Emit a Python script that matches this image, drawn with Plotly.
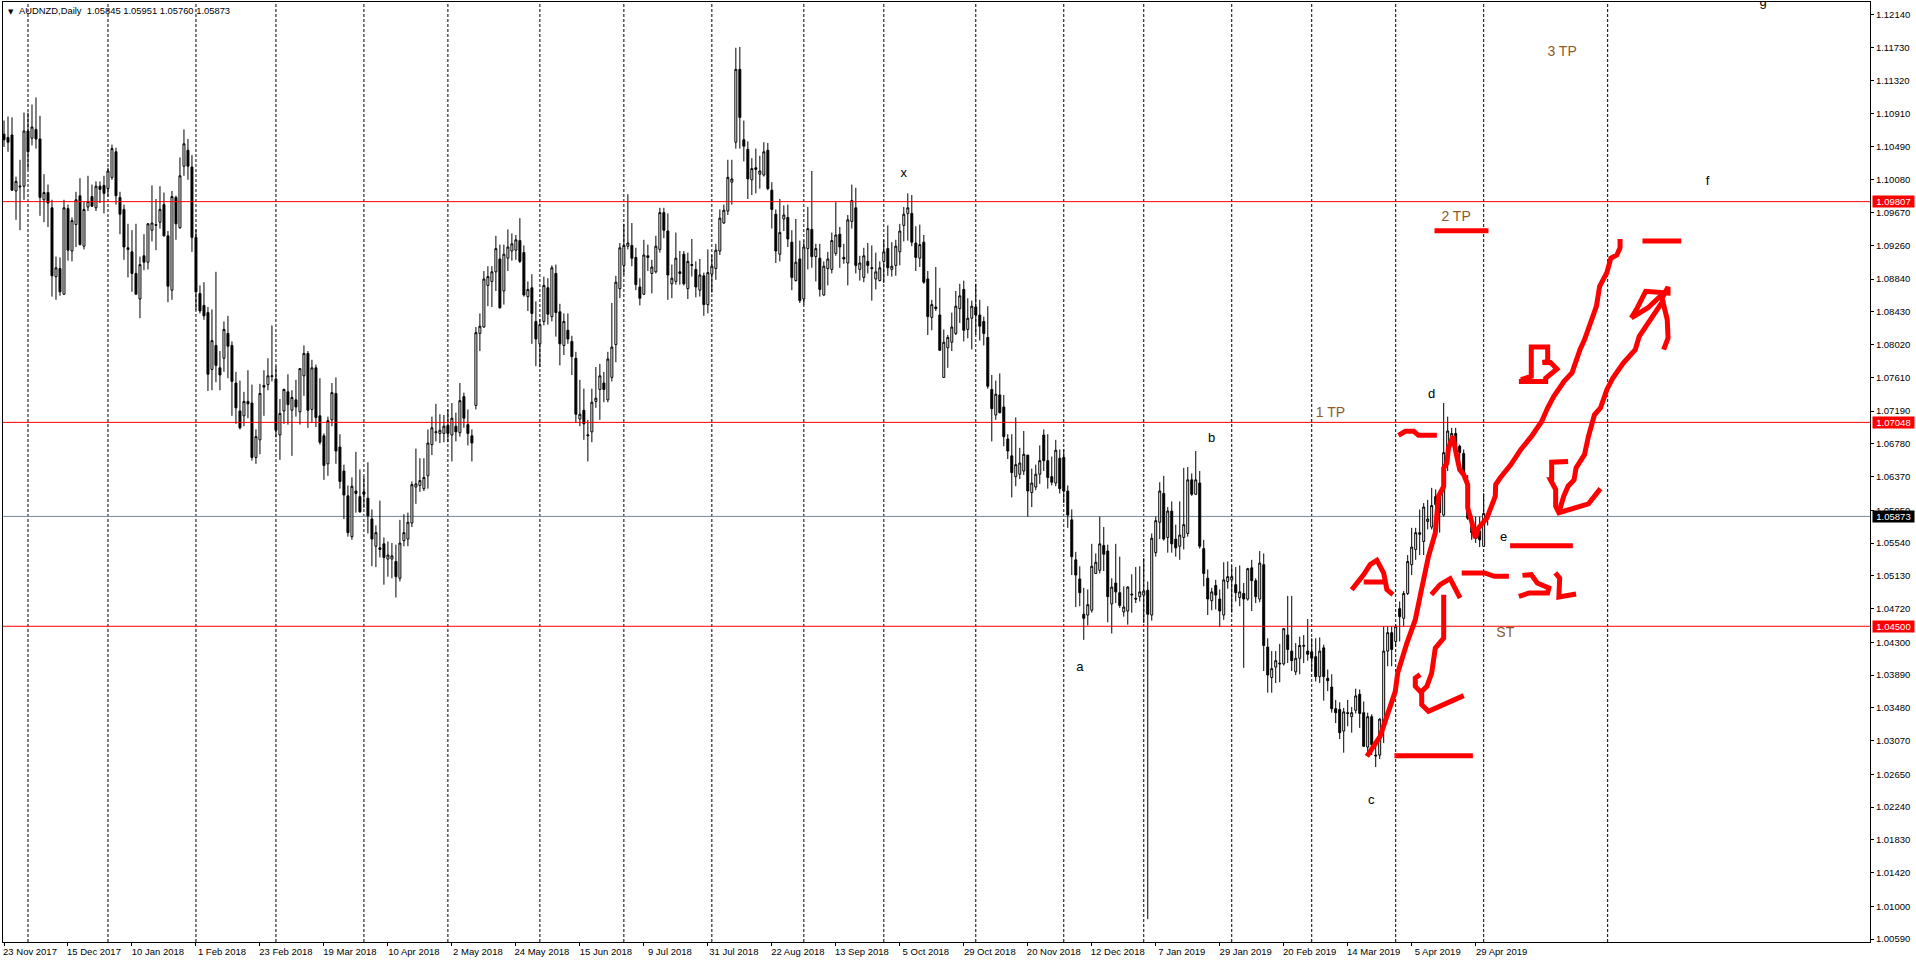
import plotly.graph_objects as go

opens = [
1.1065,1.1061,1.1064,1.0994,1.0999,1.1000,1.1069,1.1060,1.1071,1.1059,
1.0983,1.0992,1.0973,1.0887,1.0897,1.0865,1.0972,1.0919,1.0952,1.0988,
1.0925,1.0974,1.0987,1.0973,1.1000,1.1001,1.0997,1.1011,1.1043,1.0986,
1.0971,1.0923,1.0918,1.0891,1.0859,1.0913,1.0905,1.0945,1.0951,1.0955,
1.0977,1.0938,1.0870,1.0986,1.0948,1.1025,1.1045,1.1024,1.0936,1.0866,
1.0851,1.0842,1.0771,1.0801,1.0773,1.0785,1.0816,1.0801,1.0754,1.0719,
1.0713,1.0731,1.0729,1.0661,1.0683,1.0751,1.0752,1.0762,1.0759,1.0689,
1.0719,1.0743,1.0720,1.0733,1.0718,1.0763,1.0791,1.0721,1.0773,1.0713,
1.0688,1.0653,1.0708,1.0741,1.0674,1.0644,1.0613,1.0562,1.0619,1.0612,
1.0618,1.0610,1.0584,1.0550,1.0548,1.0553,1.0534,1.0534,1.0531,1.0510,
1.0557,1.0559,1.0579,1.0624,1.0626,1.0622,1.0638,1.0677,1.0692,1.0691,
1.0691,1.0701,1.0689,1.0700,1.0692,1.0737,1.0702,1.0688,1.0726,1.0816,
1.0824,1.0876,1.0881,1.0893,1.0909,1.0869,1.0910,1.0919,1.0920,1.0932,
1.0917,1.0862,1.0873,1.0831,1.0803,1.0831,1.0873,1.0837,1.0891,1.0843,
1.0801,1.0820,1.0806,1.0785,1.0709,1.0720,1.0688,1.0693,1.0731,1.0746,
1.0754,1.0733,1.0761,1.0802,1.0872,1.0901,1.0925,1.0926,1.0911,1.0874,
1.0865,1.0913,1.0891,1.0893,1.0921,1.0967,1.0944,1.0878,1.0881,1.0893,
1.0915,1.0872,1.0902,1.0896,1.0870,1.0888,1.0852,1.0890,1.0897,1.0919,
1.0954,1.0969,1.1005,1.1055,1.1146,1.1058,1.1046,1.1008,1.1023,1.1015,
1.1014,1.1045,1.0995,1.0965,1.0915,1.0959,1.0961,1.0930,1.0882,1.0909,
1.0859,1.0922,1.0946,1.0912,1.0910,1.0864,1.0897,1.0896,1.0916,1.0940,
1.0911,1.0904,1.0956,1.0973,1.0896,1.0886,1.0906,1.0897,1.0884,1.0882,
1.0906,1.0922,1.0896,1.0901,1.0918,1.0951,1.0966,1.0966,1.0929,1.0910,
1.0930,1.0884,1.0836,1.0849,1.0839,1.0761,1.0798,1.0805,1.0816,1.0847,
1.0871,1.0821,1.0835,1.0849,1.0839,1.0831,1.0811,1.0746,1.0714,1.0739,
1.0724,1.0684,1.0663,1.0637,1.0640,1.0644,1.0664,1.0617,1.0624,1.0640,
1.0689,1.0657,1.0637,1.0629,1.0660,1.0661,1.0619,1.0583,1.0533,1.0509,
1.0465,1.0464,1.0470,1.0516,1.0520,1.0551,1.0544,1.0478,1.0504,1.0492,
1.0468,1.0469,1.0489,1.0485,1.0487,1.0489,1.0495,1.0464,1.0542,1.0580,
1.0616,1.0561,1.0594,1.0559,1.0550,1.0561,1.0566,1.0633,1.0615,1.0629,
1.0547,1.0510,1.0482,1.0501,1.0484,1.0464,1.0506,1.0508,1.0502,1.0486,
1.0491,1.0484,1.0523,1.0507,1.0484,1.0527,1.0424,1.0386,1.0399,1.0404,
1.0403,1.0439,1.0419,1.0393,1.0410,1.0425,1.0419,1.0418,1.0412,1.0387,
1.0423,1.0385,1.0374,1.0347,1.0346,1.0319,1.0342,1.0337,1.0345,1.0365,
1.0342,1.0299,1.0337,1.0289,1.0289,1.0325,1.0419,1.0442,1.0431,1.0472,
1.0460,1.0491,1.0527,1.0546,1.0567,1.0556,1.0581,1.0574,1.0612,1.0612,
1.0589,1.0667,1.0677,1.0691,1.0675,1.0666,1.0621,1.0575,1.0571,1.0569,
1.0550,1.05845]

highs = [
1.1082,1.1087,1.1086,1.1012,1.1033,1.1092,1.1092,1.1102,1.1111,1.1088,
1.1015,1.1002,1.0983,1.0912,1.0911,1.0983,1.0977,1.0961,1.0993,1.1010,
1.0981,1.1013,1.1002,1.1006,1.1006,1.1013,1.1023,1.1052,1.1048,1.0993,
1.0977,1.0953,1.0945,1.0953,1.0912,1.0940,1.0954,1.1001,1.0984,1.1000,
1.0992,1.0944,1.0994,1.0988,1.1036,1.1071,1.1059,1.1039,1.0946,1.0876,
1.0880,1.0849,1.0846,1.0893,1.0794,1.0831,1.0838,1.0806,1.0768,1.0757,
1.0743,1.0770,1.0752,1.0696,1.0753,1.0770,1.0785,1.0826,1.0775,1.0734,
1.0747,1.0765,1.0745,1.0758,1.0772,1.0801,1.0794,1.0783,1.0777,1.0760,
1.0691,1.0712,1.0754,1.0761,1.0690,1.0652,1.0626,1.0636,1.0668,1.0646,
1.0637,1.0655,1.0596,1.0576,1.0607,1.0561,1.0556,1.0554,1.0552,1.0583,
1.0590,1.0592,1.0631,1.0672,1.0660,1.0660,1.0696,1.0712,1.0728,1.0715,
1.0714,1.0721,1.0729,1.0717,1.0754,1.0742,1.0721,1.0696,1.0824,1.0841,
1.0894,1.0900,1.0900,1.0938,1.0927,1.0927,1.0946,1.0941,1.0939,1.0960,
1.0926,1.0881,1.0890,1.0856,1.0834,1.0887,1.0885,1.0901,1.0902,1.0853,
1.0841,1.0841,1.0813,1.0793,1.0758,1.0747,1.0708,1.0747,1.0774,1.0778,
1.0768,1.0793,1.0854,1.0888,1.0929,1.0953,1.0990,1.0954,1.0923,1.0885,
1.0933,1.0927,1.0908,1.0938,1.0973,1.0973,1.0966,1.0902,1.0942,1.0919,
1.0919,1.0917,1.0934,1.0906,1.0909,1.0892,1.0921,1.0914,1.0928,1.0971,
1.0977,1.1033,1.1033,1.1173,1.1174,1.1082,1.1056,1.1035,1.1047,1.1038,
1.1055,1.1054,1.1005,1.0971,1.0984,1.0976,1.0977,1.0945,1.0959,1.0932,
1.0932,1.0974,1.1019,1.0928,1.0928,1.0906,1.0918,1.0942,1.0980,1.0949,
1.0928,1.0964,1.1002,1.0998,1.0913,1.0923,1.0929,1.0926,1.0917,1.0906,
1.0933,1.0951,1.0930,1.0933,1.0953,1.0974,1.0991,1.0989,1.0950,1.0952,
1.0939,1.0894,1.0858,1.0899,1.0873,1.0821,1.0814,1.0842,1.0869,1.0878,
1.0882,1.0860,1.0857,1.0878,1.0858,1.0837,1.0850,1.0764,1.0757,1.0766,
1.0739,1.0690,1.0690,1.0711,1.0673,1.0694,1.0664,1.0647,1.0652,1.0676,
1.0696,1.0690,1.0662,1.0683,1.0671,1.0671,1.0626,1.0596,1.0543,1.0525,
1.0498,1.0496,1.0553,1.0541,1.0587,1.0574,1.0552,1.0510,1.0553,1.0537,
1.0500,1.0500,1.0515,1.0524,1.0525,1.0535,1.0506,1.0566,1.0587,1.0630,
1.0638,1.0599,1.0606,1.0577,1.0606,1.0648,1.0649,1.0641,1.0669,1.0644,
1.0558,1.0521,1.0498,1.0508,1.0496,1.0530,1.0531,1.0525,1.0524,1.0526,
1.0504,1.0523,1.0533,1.0510,1.0544,1.0541,1.0435,1.0419,1.0419,1.0428,
1.0447,1.0488,1.0488,1.0429,1.0437,1.0439,1.0459,1.0435,1.0435,1.0436,
1.0427,1.0396,1.0390,1.0358,1.0355,1.0348,1.0358,1.0349,1.0372,1.0371,
1.0356,1.0342,1.0340,1.0300,1.0335,1.0450,1.0450,1.0450,1.0452,1.0481,
1.0494,1.0539,1.0573,1.0573,1.0596,1.0604,1.0608,1.0623,1.0621,1.0617,
1.0729,1.0712,1.0698,1.0698,1.0677,1.0671,1.0639,1.0587,1.0587,1.0587,
1.0616,1.05951]

lows = [
1.1049,1.1043,1.0994,1.0958,1.0945,1.0983,1.1021,1.1051,1.1047,1.0963,
1.0955,1.0949,1.0862,1.0858,1.0863,1.0864,1.0907,1.0906,1.0924,1.0926,
1.0921,1.0969,1.0974,1.0969,1.0979,1.0966,1.0987,1.1008,1.0977,1.0940,
1.0908,1.0886,1.0868,1.0865,1.0835,1.0895,1.0896,1.0931,1.0920,1.0947,
1.0937,1.0855,1.0858,1.0933,1.0947,1.1013,1.1008,1.0918,1.0845,1.0841,
1.0833,1.0744,1.0745,1.0755,1.0745,1.0768,1.0760,1.0713,1.0703,1.0696,
1.0700,1.0710,1.0657,1.0653,1.0665,1.0713,1.0745,1.0756,1.0686,1.0658,
1.0703,1.0702,1.0663,1.0712,1.0702,1.0738,1.0698,1.0704,1.0699,1.0677,
1.0633,1.0638,1.0700,1.0653,1.0622,1.0584,1.0562,1.0558,1.0592,1.0592,
1.0598,1.0566,1.0525,1.0524,1.0536,1.0502,1.0512,1.0510,1.0486,1.0506,
1.0550,1.0550,1.0574,1.0603,1.0618,1.0619,1.0622,1.0664,1.0681,1.0679,
1.0680,1.0680,1.0656,1.0681,1.0687,1.0698,1.0676,1.0656,1.0721,1.0794,
1.0823,1.0850,1.0849,1.0869,1.0847,1.0852,1.0894,1.0907,1.0908,1.0904,
1.0862,1.0844,1.0803,1.0775,1.0774,1.0826,1.0827,1.0831,1.0812,1.0776,
1.0789,1.0803,1.0764,1.0704,1.0700,1.0683,1.0656,1.0680,1.0723,1.0708,
1.0730,1.0730,1.0756,1.0780,1.0860,1.0889,1.0921,1.0900,1.0870,1.0851,
1.0864,1.0894,1.0866,1.0891,1.0917,1.0935,1.0858,1.0860,1.0877,1.0877,
1.0876,1.0859,1.0887,1.0861,1.0862,1.0838,1.0841,1.0867,1.0883,1.0914,
1.0953,1.0964,1.0977,1.1047,1.1047,1.1031,1.0984,1.0989,1.0991,1.0997,
1.1012,1.0995,1.0947,1.0904,1.0906,1.0944,1.0924,1.0870,1.0881,1.0854,
1.0852,1.0896,1.0898,1.0881,1.0862,1.0863,1.0876,1.0891,1.0913,1.0898,
1.0903,1.0876,1.0947,1.0891,1.0882,1.0880,1.0891,1.0857,1.0871,1.0881,
1.0879,1.0888,1.0887,1.0888,1.0901,1.0931,1.0932,1.0925,1.0894,1.0899,
1.0878,1.0814,1.0820,1.0844,1.0794,1.0761,1.0773,1.0794,1.0814,1.0829,
1.0806,1.0810,1.0796,1.0814,1.0807,1.0801,1.0747,1.0681,1.0708,1.0716,
1.0675,1.0659,1.0611,1.0625,1.0634,1.0639,1.0587,1.0599,1.0620,1.0628,
1.0644,1.0622,1.0626,1.0625,1.0616,1.0604,1.0573,1.0514,1.0474,1.0475,
1.0433,1.0451,1.0467,1.0516,1.0516,1.0519,1.0455,1.0441,1.0479,1.0473,
1.0462,1.0452,1.0467,1.0479,1.0481,1.0454,1.0084,1.0457,1.0537,1.0559,
1.0557,1.0542,1.0542,1.0537,1.0533,1.0546,1.0562,1.0613,1.0614,1.0547,
1.0500,1.0464,1.0470,1.0471,1.0449,1.0458,1.0497,1.0467,1.0481,1.0475,
1.0398,1.0482,1.0469,1.0479,1.0480,1.0394,1.0367,1.0367,1.0379,1.0380,
1.0401,1.0404,1.0394,1.0389,1.0390,1.0404,1.0407,1.0394,1.0381,1.0379,
1.0357,1.0369,1.0342,1.0329,1.0309,1.0292,1.0325,1.0317,1.0341,1.0323,
1.0299,1.0292,1.0289,1.0274,1.0284,1.0304,1.0400,1.0400,1.0425,1.0431,
1.0450,1.0489,1.0514,1.0533,1.0539,1.0539,1.0571,1.0571,1.0567,1.0567,
1.0587,1.0644,1.0675,1.0664,1.0646,1.0637,1.0583,1.0558,1.0554,1.0549,
1.0549,1.05760]

closes = [
1.1058,1.1055,1.0995,1.1006,1.1000,1.1069,1.1043,1.1074,1.1059,1.0986,
1.0992,1.0979,1.0888,1.0898,1.0868,1.0973,1.0920,1.0957,1.0983,1.0927,
1.0971,1.0981,1.0975,1.1000,1.0996,1.0991,1.1019,1.1047,1.0988,1.0965,
1.0924,1.0921,1.0891,1.0865,1.0902,1.0905,1.0953,1.0954,1.0952,1.0971,
1.0938,1.0875,1.0987,1.0953,1.1013,1.1053,1.1025,1.0936,1.0868,1.0844,
1.0838,1.0765,1.0807,1.0776,1.0764,1.0821,1.0800,1.0756,1.0723,1.0698,
1.0731,1.0728,1.0661,1.0687,1.0741,1.0749,1.0763,1.0763,1.0695,1.0716,
1.0746,1.0727,1.0736,1.0724,1.0772,1.0791,1.0720,1.0773,1.0711,1.0680,
1.0651,1.0707,1.0742,1.0669,1.0631,1.0614,1.0567,1.0625,1.0616,1.0593,
1.0615,1.0588,1.0559,1.0567,1.0546,1.0536,1.0539,1.0538,1.0512,1.0554,
1.0567,1.0580,1.0627,1.0628,1.0632,1.0636,1.0679,1.0698,1.0693,1.0695,
1.0700,1.0691,1.0710,1.0693,1.0732,1.0710,1.0691,1.0679,1.0817,1.0825,
1.0884,1.0887,1.0893,1.0922,1.0848,1.0915,1.0924,1.0928,1.0933,1.0906,
1.0864,1.0871,1.0841,1.0809,1.0827,1.0876,1.0840,1.0898,1.0842,1.0803,
1.0831,1.0809,1.0787,1.0715,1.0715,1.0703,1.0689,1.0730,1.0735,1.0763,
1.0746,1.0784,1.0799,1.0880,1.0923,1.0926,1.0929,1.0910,1.0877,1.0860,
1.0914,1.0911,1.0899,1.0925,1.0967,1.0945,1.0889,1.0885,1.0910,1.0891,
1.0878,1.0906,1.0901,1.0874,1.0889,1.0852,1.0892,1.0900,1.0920,1.0960,
1.0970,1.1011,1.1009,1.1146,1.1086,1.1050,1.1009,1.1022,1.1021,1.1019,
1.1043,1.0997,1.0971,1.0919,1.0942,1.0964,1.0934,1.0886,1.0905,1.0857,
1.0924,1.0947,1.0912,1.0922,1.0871,1.0900,1.0909,1.0932,1.0939,1.0924,
1.0909,1.0958,1.0982,1.0901,1.0904,1.0913,1.0901,1.0898,1.0893,1.0898,
1.0918,1.0898,1.0900,1.0925,1.0944,1.0965,1.0973,1.0930,1.0911,1.0927,
1.0880,1.0837,1.0852,1.0847,1.0795,1.0805,1.0811,1.0824,1.0850,1.0863,
1.0820,1.0835,1.0850,1.0839,1.0825,1.0816,1.0750,1.0722,1.0740,1.0717,
1.0687,1.0669,1.0642,1.0652,1.0654,1.0665,1.0619,1.0629,1.0640,1.0657,
1.0657,1.0636,1.0630,1.0670,1.0622,1.0619,1.0589,1.0537,1.0514,1.0492,
1.0460,1.0477,1.0525,1.0530,1.0553,1.0540,1.0487,1.0499,1.0493,1.0476,
1.0474,1.0499,1.0490,1.0484,1.0493,1.0494,1.0465,1.0560,1.0582,1.0619,
1.0559,1.0594,1.0553,1.0548,1.0564,1.0577,1.0633,1.0615,1.0633,1.0550,
1.0516,1.0484,1.0493,1.0489,1.0469,1.0508,1.0512,1.0512,1.0492,1.0493,
1.0484,1.0522,1.0507,1.0487,1.0529,1.0426,1.0389,1.0397,1.0407,1.0403,
1.0447,1.0421,1.0407,1.0410,1.0426,1.0426,1.0415,1.0410,1.0387,1.0419,
1.0387,1.0382,1.0347,1.0342,1.0317,1.0343,1.0341,1.0342,1.0363,1.0341,
1.0300,1.0337,1.0302,1.0288,1.0334,1.0419,1.0442,1.0421,1.0450,1.0462,
1.0491,1.0531,1.0549,1.0567,1.0565,1.0599,1.0584,1.0601,1.0602,1.0592,
1.0667,1.0694,1.0691,1.0669,1.0667,1.0642,1.0585,1.0567,1.0560,1.0558,
1.0591,1.05873]

bar_index = list(range(len(opens)))

date_tick_bars = [0,16,32,48,64,80,96,112,128,144,160,176,192,208,224,240,256,272,288,304,320,336,352,368]
date_tick_labels = ["23 Nov 2017","15 Dec 2017","10 Jan 2018","1 Feb 2018","23 Feb 2018","19 Mar 2018",
    "10 Apr 2018","2 May 2018","24 May 2018","15 Jun 2018","9 Jul 2018","31 Jul 2018","22 Aug 2018",
    "13 Sep 2018","5 Oct 2018","29 Oct 2018","20 Nov 2018","12 Dec 2018","7 Jan 2019","29 Jan 2019",
    "20 Feb 2019","14 Mar 2019","5 Apr 2019","29 Apr 2019"]
price_ticks = [1.12140,1.11730,1.11320,1.10910,1.10490,1.10080,1.09670,1.09260,1.08840,1.08430,
    1.08020,1.07610,1.07190,1.06780,1.06370,1.05950,1.05540,1.05130,1.04720,1.04300,1.03890,
    1.03480,1.03070,1.02650,1.02240,1.01830,1.01420,1.01000,1.00590]
month_separator_bars = [6,26,48,68,90,111,134,155,177,200,220,243,265,285,307,327,348,370,401]
red_levels = [1.09807,1.07048,1.04500]
current_price = 1.05873

wave_label_text = ["x","a","b","c","d","e","f","g"]
wave_label_bar = [225,269,302,341.9,357,375,426,439.9]
wave_label_price = [1.10156,1.03984,1.06844,1.02324,1.07398,1.05603,1.1006,1.12294]
target_label_text = ["1 TP","2 TP","3 TP","ST"]
target_label_bar = [331.7,363.1,389.6,375.4]
target_label_price = [1.07153,1.09615,1.11665,1.04404]

# Hand-drawn red strokes, (bar, price) pairs
stroke_main_x = [340.8,344.1,347.9,348.5,350.8,352.9,354.1,356.2,357.9,358.7,360,360,360.8,361.2,362.3,363.1,364,365,366,366,367.1,367.9,368.7,370.8,372.9,373,374.1,376.8,379.3,381.9,384.5,386,387.5,390.1,392.1,394.1,395.2,396.7,398.2,399,400.8,401.8,403.3,404.1,404.1]
stroke_main_y = [1.02874,1.03124,1.03687,1.03916,1.0429,1.04582,1.04874,1.05374,1.05666,1.06124,1.06249,1.06478,1.0654,1.06728,1.06874,1.06665,1.06457,1.06395,1.0627,1.05978,1.0579,1.05603,1.05728,1.05853,1.06124,1.0627,1.06353,1.0652,1.0671,1.0687,1.0706,1.0723,1.0737,1.0756,1.0767,1.0796,1.0808,1.0829,1.0850,1.0875,1.0892,1.0910,1.0914,1.0923,1.0934]
stroke_2tp_x = [357.7,371.2]
stroke_2tp_y = [1.09444,1.09444]
stroke_right_x = [409.7,419.4]
stroke_right_y = [1.09315,1.09315]
stroke_tilde_x = [348.7,350.4,352.5,353.7,358.3]
stroke_tilde_y = [1.06886,1.06936,1.06936,1.06886,1.06886]
stroke_base_x = [347.7,367.3]
stroke_base_y = [1.02883,1.02883]
stroke_a_x = [337,340,341.6,343.3,345,345.8,347.3,None,340,345]
stroke_a_y = [1.04957,1.05145,1.0527,1.05324,1.05166,1.04957,1.04895,None,1.05053,1.05053]
stroke_arrow1_x = [360,360,357.9,357,355.8,354.5,354.5,356.2,365,None,354.1,352.9,352.9,354.5,None,356.9,359.1,361.6,364.1]
stroke_arrow1_y = [1.04895,1.04353,1.04228,1.03916,1.03749,1.03687,1.0352,1.03437,1.03633,None,1.03895,1.03853,1.03749,1.03666,None,1.04895,1.0502,1.05095,1.04853]
stroke_e_x = [376.6,392.3]
stroke_e_y = [1.05507,1.05507]
stroke_sl_dash_x = [364.5,370.2,372.7,376.3]
stroke_sl_dash_y = [1.05166,1.05166,1.05124,1.05124]
stroke_s_x = [379.7,381.9,383.4,386.3,386,381.4,378.8]
stroke_s_y = [1.05136,1.05145,1.0504,1.04978,1.04916,1.04916,1.04874]
stroke_l_x = [387.9,389,388.8,393.1]
stroke_l_y = [1.05166,1.05103,1.04866,1.04903]
stroke_b_x = [378.8,385.5,385.5,388.3,386.7,384.7,386,386,381.9,381.9,379.3]
stroke_b_y = [1.0756,1.0756,1.0760,1.07715,1.07798,1.07798,1.0781,1.0799,1.0799,1.07623,1.07582]
stroke_arrow2_x = [391.1,387,387,386.7,388,388,388.8,396.2,399.2,None,388.8,390,391.1,392.6,393.1,395.2,396.2,397.7,399.2,400.8,402.3,404.9,407.9,408.9,415,None,406.9,408.4,410.5,416.1,416.1,414.6,415.9,416.1,415,None,406.9,411,414.6]
stroke_arrow2_y = [1.0656,1.0655,1.0633,1.0633,1.0621,1.0600,1.0592,1.0603,1.0622,None,1.0592,1.06124,1.0625,1.0633,1.0648,1.06644,1.06874,1.07144,1.07228,1.07457,1.07603,1.0779,1.07957,1.08123,1.0858,None,1.08353,1.08478,1.08686,1.08665,1.0874,1.08602,1.08332,1.08102,1.07957,None,1.08353,1.08478,1.08644]

strokes = [
    (stroke_main_x, stroke_main_y), (stroke_2tp_x, stroke_2tp_y), (stroke_right_x, stroke_right_y),
    (stroke_tilde_x, stroke_tilde_y), (stroke_base_x, stroke_base_y), (stroke_a_x, stroke_a_y),
    (stroke_arrow1_x, stroke_arrow1_y), (stroke_e_x, stroke_e_y), (stroke_sl_dash_x, stroke_sl_dash_y),
    (stroke_s_x, stroke_s_y), (stroke_l_x, stroke_l_y), (stroke_b_x, stroke_b_y), (stroke_arrow2_x, stroke_arrow2_y),
]

FONT = "Liberation Sans"
fig = go.Figure()

fig.add_trace(go.Candlestick(
    x=bar_index, open=opens, high=highs, low=lows, close=closes,
    increasing=dict(line=dict(color="black", width=1), fillcolor="white"),
    decreasing=dict(line=dict(color="black", width=1), fillcolor="black"),
    whiskerwidth=0, showlegend=False, hoverinfo="skip",
))

for sx, sy in strokes:
    fig.add_trace(go.Scatter(x=sx, y=sy, mode="lines", showlegend=False, hoverinfo="skip",
        line=dict(color="#ff0000", width=5, simplify=False), connectgaps=False))

fig.add_trace(go.Scatter(x=wave_label_bar, y=wave_label_price, text=wave_label_text, mode="text",
    textposition="middle center", textfont=dict(family=FONT, size=13, color="black"),
    showlegend=False, hoverinfo="skip"))
fig.add_trace(go.Scatter(x=target_label_bar, y=target_label_price, text=target_label_text, mode="text",
    textposition="middle center", textfont=dict(family=FONT, size=14, color="#8b5a2b"),
    showlegend=False, hoverinfo="skip"))

shapes = []
for b in month_separator_bars:
    shapes.append(dict(type="line", xref="x", yref="paper", x0=b, x1=b, y0=0, y1=1, layer="below",
                       line=dict(color="black", width=1, dash="3px,2px")))
for lv in red_levels:
    shapes.append(dict(type="line", xref="paper", yref="y", x0=0, x1=1, y0=lv, y1=lv, layer="above",
                       line=dict(color="#ff0000", width=1)))
shapes.append(dict(type="line", xref="paper", yref="y", x0=0, x1=1, y0=current_price, y1=current_price,
                   layer="below", line=dict(color="#778899", width=1)))

annotations = []
for lv, bg in [(red_levels[0], "#ff0000"), (red_levels[1], "#ff0000"), (red_levels[2], "#ff0000"), (current_price, "#000000")]:
    annotations.append(dict(xref="paper", yref="y", x=1, y=lv, xanchor="left", xshift=2, showarrow=False,
        text=f"{lv:.5f}", font=dict(family=FONT, size=9.5, color="white"), bgcolor=bg,
        width=41, height=11, borderpad=0, align="center"))
annotations.append(dict(xref="paper", yref="paper", x=0, y=1, xanchor="left", yanchor="top", xshift=3, yshift=-4,
    showarrow=False, text="▼", font=dict(family="DejaVu Sans", size=7, color="black")))
annotations.append(dict(xref="paper", yref="paper", x=0, y=1, xanchor="left", yanchor="top", xshift=14, yshift=-1,
    showarrow=False, text="AUDNZD,Daily  1.05845 1.05951 1.05760 1.05873",
    font=dict(family=FONT, size=9.4, color="black")))

fig.update_layout(
    width=1916, height=963, autosize=False,
    margin=dict(l=2.5, r=46, t=2.3, b=20.7, pad=0),
    paper_bgcolor="white", plot_bgcolor="white",
    showlegend=False, hovermode=False, boxgap=0.3,
    shapes=shapes, annotations=annotations,
    font=dict(family=FONT, size=9.5, color="black"),
    xaxis=dict(range=[-0.25, 466.6], rangeslider=dict(visible=False), showgrid=False, zeroline=False,
        tickmode="array", tickvals=date_tick_bars, ticktext=date_tick_labels, tickangle=0,
        ticks="outside", ticklen=3, tickwidth=1, tickcolor="black", ticklabelshift=26, ticklabelstandoff=-2,
        tickfont=dict(family=FONT, size=9.5, color="black"),
        showline=True, linecolor="black", linewidth=1, mirror=True),
    yaxis=dict(range=[1.00554, 1.12302], side="right", showgrid=False, zeroline=False,
        tickmode="array", tickvals=price_ticks, ticktext=[f"{v:.5f}" for v in price_ticks],
        ticks="outside", ticklen=3, tickwidth=1, tickcolor="black",
        tickfont=dict(family=FONT, size=9.5, color="black"),
        showline=True, linecolor="black", linewidth=1, mirror=True),
)

fig.write_html("out.html", config=dict(displayModeBar=False),
               post_script="document.body.style.margin='0';document.body.style.overflow='hidden';")
